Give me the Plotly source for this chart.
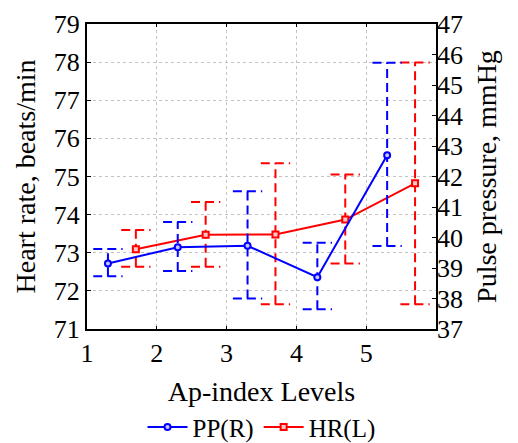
import plotly.graph_objects as go

levels = [1, 2, 3, 4, 5]
x_tick_labels = ["1", "2", "3", "4", "5"]

pp_mean = [39.15, 39.68, 39.73, 38.70, 42.70]
pp_high = [39.62, 40.51, 41.52, 39.83, 45.73]
pp_low = [38.73, 38.90, 38.00, 37.65, 39.72]

hr_mean = [73.09, 73.47, 73.48, 73.87, 74.82]
hr_high = [73.60, 74.33, 75.35, 75.05, 77.99]
hr_low = [72.63, 72.63, 71.65, 72.72, 71.65]

PP_OFFSET = 0.3
HR_OFFSET = 0.7
CAP = 0.21
FONT = "Liberation Serif, Times New Roman, Times, serif"
BLUE = "#0000ff"
RED = "#ff0000"


def whiskers(xs, lo, hi):
    X, Y = [], []
    for x, l, h in zip(xs, lo, hi):
        X += [x, x, None, x - CAP, x + CAP, None, x - CAP, x + CAP, None]
        Y += [l, h, None, h, h, None, l, l, None]
    return X, Y


pp_x = [v + PP_OFFSET for v in levels]
hr_x = [v + HR_OFFSET for v in levels]

fig = go.Figure()

wx, wy = whiskers(pp_x, pp_low, pp_high)
fig.add_trace(go.Scatter(x=wx, y=wy, mode="lines", yaxis="y2", showlegend=False,
                         hoverinfo="skip",
                         line=dict(color=BLUE, width=2, dash="9px,5px")))
wx, wy = whiskers(hr_x, hr_low, hr_high)
fig.add_trace(go.Scatter(x=wx, y=wy, mode="lines", yaxis="y", showlegend=False,
                         hoverinfo="skip",
                         line=dict(color=RED, width=2, dash="9px,5px")))

fig.add_trace(go.Scatter(x=pp_x, y=pp_mean, mode="lines+markers", name="PP(R)",
                         yaxis="y2",
                         line=dict(color=BLUE, width=2),
                         marker=dict(symbol="circle", size=6, color="#c8c8ff",
                                     line=dict(color=BLUE, width=2))))
fig.add_trace(go.Scatter(x=hr_x, y=hr_mean, mode="lines+markers", name="HR(L)",
                         yaxis="y",
                         line=dict(color=RED, width=2),
                         marker=dict(symbol="square", size=6, color="#ffc8c8",
                                     line=dict(color=RED, width=2))))

grid = dict(showgrid=True, gridcolor="#c4c4c4", griddash="dot", gridwidth=1)

fig.update_layout(
    width=518, height=443,
    margin=dict(l=87, r=82, t=24, b=114, autoexpand=False),
    paper_bgcolor="white", plot_bgcolor="white",
    font=dict(family=FONT, size=26, color="black"),
    showlegend=True,
    legend=dict(orientation="h", x=0.5, xanchor="center", y=-0.322, yanchor="middle",
                font=dict(size=25, family=FONT), bgcolor="rgba(0,0,0,0)",
                itemwidth=40),
    xaxis=dict(range=[1, 6], tickvals=levels, ticktext=x_tick_labels,
               ticks="inside", ticklen=3, tickcolor="black", tickwidth=1,
               showline=True, linecolor="black", linewidth=2, mirror="ticks",
               zeroline=False,
               title=dict(text="Ap-index Levels", font=dict(size=28, family=FONT),
                          standoff=14),
               **grid),
    yaxis=dict(range=[71, 79], dtick=1, ticks="inside", ticklen=4,
               tickcolor="black", tickwidth=1,
               showline=True, linecolor="black", linewidth=2, mirror=True,
               zeroline=False,
               title=dict(text="Heart rate, beats/min", font=dict(size=28, family=FONT),
                          standoff=10),
               **grid),
    yaxis2=dict(range=[37, 47], dtick=1, overlaying="y", side="right",
                ticks="inside", ticklen=4, tickcolor="black", tickwidth=1,
                showline=False, showgrid=False, zeroline=False,
                title=dict(text="Pulse pressure, mmHg", font=dict(size=28, family=FONT),
                           standoff=14)),
)

fig.write_html("out.html")
